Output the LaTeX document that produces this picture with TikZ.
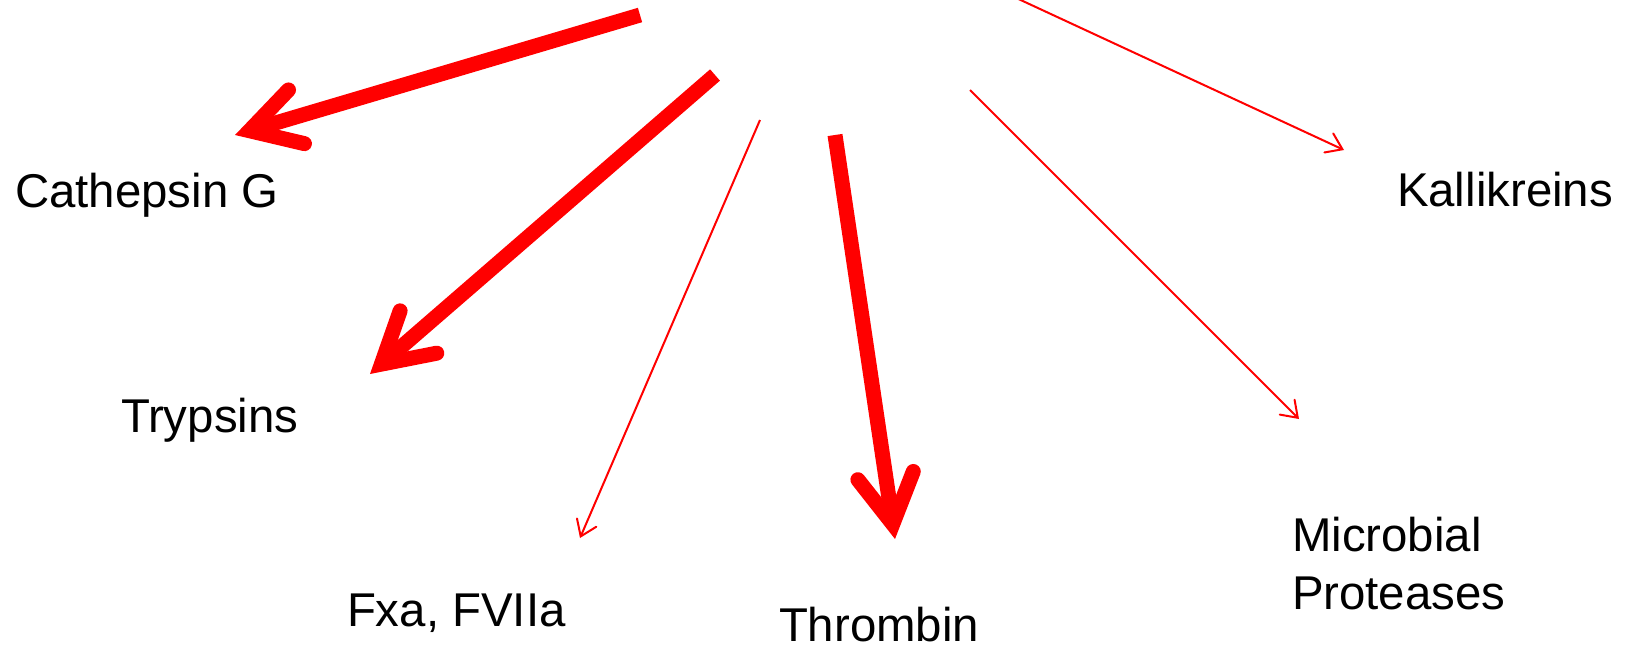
\documentclass[tikz,border=0pt]{standalone}
\usepackage{fontspec}
\setmainfont{Liberation Sans}
\usetikzlibrary{arrows.meta}
\tikzset{
  lbl/.style={anchor=base west, inner sep=0pt, outer sep=0pt, text=black,
    font=\fontsize{47.4}{58}\selectfont, align=left},
  bigarrow/.style={draw=red, line width=15pt, line cap=butt,
    -{Straight Barb[length=49pt, width=56pt, line cap=round, line join=miter]}},
  thinarrow/.style={draw=red, line width=2pt, line cap=butt,
    -{Straight Barb[length=15pt, width=21pt, line cap=round, line join=miter]}},
}
\begin{document}
\begin{tikzpicture}[x=1pt, y=-1pt]
  \useasboundingbox (0,0) rectangle (1625,649);
  % labels
  \node[lbl] (cat) at (15,207) {Cathepsin G};
  \node[lbl] (try) at (121,432) {Trypsins};
  \node[lbl] (fxa) at (347,626) {Fxa, FVIIa};
  \node[lbl] (thr) at (779,641) {Thrombin};
  \node[lbl] (mic) at (1292,609) {Microbial\\Proteases};
  \node[lbl] (kal) at (1397,206) {Kallikreins};
  % arrow end points
  \coordinate (s1) at (640,15);   \coordinate (e1) at (235,135);
  \coordinate (s2) at (715,75);   \coordinate (e2) at (370,374);
  \coordinate (s3) at (760,120);  \coordinate (e3) at (580,538);
  \coordinate (s4) at (835,135);  \coordinate (e4) at (895,539);
  \coordinate (s5) at (970,90);   \coordinate (e5) at (1299,419);
  \coordinate (s6) at (1012,-4);  \coordinate (e6) at (1344,150);
  % arrows
  \draw[bigarrow] (s1) -- (e1);
  \draw[bigarrow] (s2) -- (e2);
  \draw[thinarrow] (s3) -- (e3);
  \draw[bigarrow] (s4) -- (e4);
  \draw[thinarrow] (s5) -- (e5);
  \draw[thinarrow] (s6) -- (e6);
\end{tikzpicture}
\end{document}
